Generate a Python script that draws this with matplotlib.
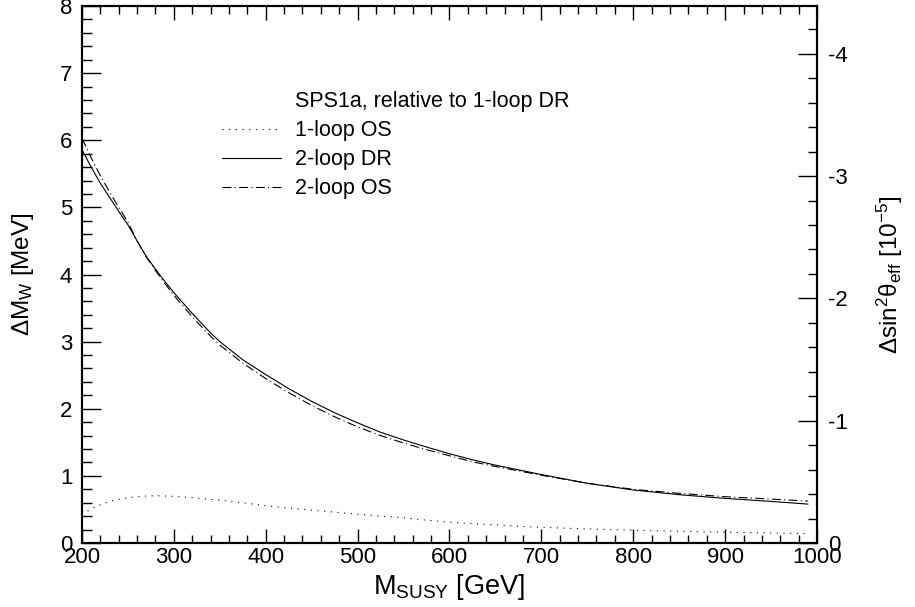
import matplotlib
matplotlib.use("Agg")
import matplotlib.pyplot as plt
from matplotlib.ticker import MultipleLocator, FuncFormatter
from matplotlib.lines import Line2D

plt.rcParams['font.family'] = ['Liberation Sans', 'DejaVu Sans']
plt.rcParams['mathtext.fontset'] = 'custom'
plt.rcParams['mathtext.rm'] = 'Liberation Sans'
plt.rcParams['mathtext.it'] = 'Liberation Sans:italic'
plt.rcParams['mathtext.bf'] = 'Liberation Sans:bold'
plt.rcParams['mathtext.sf'] = 'Liberation Sans'

# ---- data ----
m_susy = [200, 210, 220, 230, 240, 250, 260, 270, 280, 290, 300, 320, 340, 350,
          375, 400, 425, 450, 475, 500, 525, 550, 575, 600, 625, 650, 675, 700,
          750, 800, 850, 900, 950, 990]

one_loop_os = [0.42, 0.51, 0.57, 0.62, 0.65, 0.675, 0.69, 0.70, 0.705, 0.70, 0.695,
               0.675, 0.65, 0.64, 0.60, 0.556, 0.52, 0.49, 0.46, 0.43, 0.40, 0.377,
               0.34, 0.31, 0.29, 0.27, 0.25, 0.234, 0.21, 0.19, 0.175, 0.16, 0.15, 0.14]

two_loop_dr = [5.86, 5.60, 5.36, 5.15, 4.94, 4.74, 4.50, 4.27, 4.08, 3.90, 3.73,
               3.42, 3.13, 3.00, 2.73, 2.51, 2.30, 2.11, 1.94, 1.79, 1.65, 1.535,
               1.43, 1.33, 1.24, 1.16, 1.09, 1.02, 0.89, 0.79, 0.72, 0.665, 0.62, 0.58]

two_loop_os = [6.03, 5.74, 5.47, 5.23, 5.00, 4.78, 4.50, 4.26, 4.06, 3.87, 3.69,
               3.37, 3.08, 2.95, 2.68, 2.45, 2.24, 2.05, 1.88, 1.73, 1.60, 1.49,
               1.39, 1.30, 1.21, 1.14, 1.075, 1.01, 0.89, 0.80, 0.74, 0.69, 0.655, 0.625]

legend_title = "SPS1a, relative to 1-loop DR"
series_labels = ["1-loop OS", "2-loop DR", "2-loop OS"]

x_range = (200, 1000)
y_range = (0, 8)
y2_range = (0, -4.39)

# ---- figure ----
fig = plt.figure(figsize=(9.15, 6.07), dpi=100)
ax = fig.add_axes([0.0896, 0.1054, 0.8033, 0.8847])

lw = 0.8
styles = [(0, (1, 5)), '-', (0, (8, 3, 1, 3))]
for ys, st in zip([one_loop_os, two_loop_dr, two_loop_os], styles):
    ax.plot(m_susy, ys, color='black', lw=lw, linestyle=st)

ax.set_xlim(*x_range)
ax.set_ylim(*y_range)

ax.xaxis.set_major_locator(MultipleLocator(100))
ax.xaxis.set_minor_locator(MultipleLocator(20))
ax.yaxis.set_major_locator(MultipleLocator(1))
ax.yaxis.set_minor_locator(MultipleLocator(0.2))

for s in ax.spines.values():
    s.set_linewidth(1.5)

tick_fs = 16
ax.tick_params(axis='x', which='major', direction='in', length=10, width=1.0,
               top=True, labelsize=tick_fs, pad=3)
ax.tick_params(axis='x', which='minor', direction='in', length=5.5, width=1.0, top=True)
ax.tick_params(axis='y', which='major', direction='in', length=13.5, width=1.0,
               right=False, labelsize=tick_fs, pad=7)
ax.tick_params(axis='y', which='minor', direction='in', length=7, width=1.0, right=False)

ax2 = ax.twinx()
ax2.set_ylim(*y2_range)
ax2.yaxis.set_major_locator(MultipleLocator(1))
ax2.yaxis.set_minor_locator(MultipleLocator(0.2))
ax2.yaxis.set_major_formatter(FuncFormatter(
    lambda v, p: "0" if abs(v) < 1e-9 else "%d" % round(v)))
ax2.tick_params(axis='y', which='major', direction='in', length=14, width=1.0,
                labelsize=tick_fs, pad=8)
ax2.tick_params(axis='y', which='minor', direction='in', length=6.5, width=1.0)
for s in ax2.spines.values():
    s.set_linewidth(1.5)

ax.set_xlabel("M$_{\\mathrm{SUSY}}$ [GeV]", fontsize=19.5)
ax.xaxis.set_label_coords(0.5, -0.054)
ax.set_ylabel("ΔM$_{\\mathrm{W}}$ [MeV]", fontsize=17.5)
ax.yaxis.set_label_coords(-0.062, 0.5)
ax2.set_ylabel("Δsin$^{2}$θ$_{\\mathrm{eff}}$ [10$^{-5}$]", fontsize=17.5, rotation=90)
ax2.yaxis.set_label_coords(1.078, 0.5)

leg_fs = 15.5
ax.text(0.2898, 0.8218, legend_title, transform=ax.transAxes, fontsize=leg_fs,
        ha='left', va='center')

handles = [Line2D([], [], color='black', lw=lw, linestyle=st) for st in styles]
ax.legend(handles, series_labels, loc='upper left', bbox_to_anchor=(0.1905, 0.787),
          frameon=False, fontsize=leg_fs, handlelength=2.74, handletextpad=0.65,
          labelspacing=0.37, borderpad=0, borderaxespad=0)

fig.savefig("out.png", dpi=100)
